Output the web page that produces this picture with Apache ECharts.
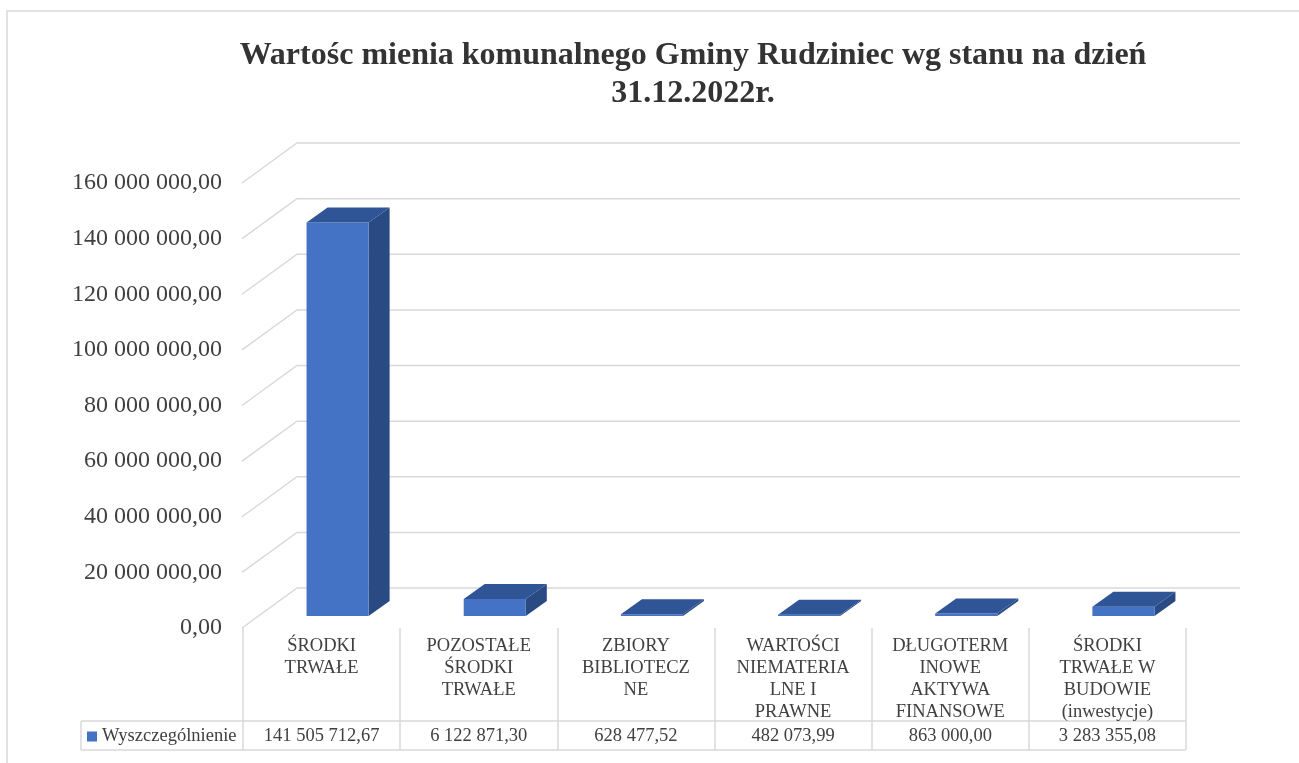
<!DOCTYPE html>
<html>
<head>
<meta charset="utf-8">
<title>Wartość mienia komunalnego Gminy Rudziniec</title>
<script src="https://cdn.jsdelivr.net/npm/echarts@6/dist/echarts.min.js"></script>
<style>
  html, body { margin: 0; padding: 0; background: #fff; }
  #chart { width: 1299px; height: 763px; }
</style>
</head>
<body>
<div id="chart"></div>
<script>
// dane
const titleLines = ['Wartośc mienia komunalnego Gminy Rudziniec wg stanu na dzień', '31.12.2022r.']
const seriesName = 'Wyszczególnienie'
const categories = [
  'ŚRODKI\nTRWAŁE',
  'POZOSTAŁE\nŚRODKI\nTRWAŁE',
  'ZBIORY\nBIBLIOTECZ\nNE',
  'WARTOŚCI\nNIEMATERIA\nLNE I\nPRAWNE',
  'DŁUGOTERM\nINOWE\nAKTYWA\nFINANSOWE',
  'ŚRODKI\nTRWAŁE W\nBUDOWIE\n(inwestycje)'
]
const values = [141505712.67, 6122871.30, 628477.52, 482073.99, 863000.00, 3283355.08]
const yTicks = [0, 20000000, 40000000, 60000000, 80000000, 100000000, 120000000, 140000000, 160000000]

// wygląd
const FONT = 'Liberation Serif'
const TEXT = '#404040'
const LINE = '#d9d9d9'
const FRONT = '#4472c4'
const TOP = '#2f5597'
const SIDE = '#294a82'
const GRID = { left: 243, top: 183, right: 113, bottom: 135 }
const WALL_DX = 54, WALL_DY = -40      // przesunięcie tylnej ściany
const BAR_DX = 21, BAR_DY = -15        // głębokość słupka
const BAR_OFF_X = 16, BAR_OFF_Y = -12  // położenie słupka w głębi
const ROW1 = 93, ROW2 = 122            // linie tabeli pod osią
const LEGEND_X = 81

const formatPl = (v) => {
  const [i, d] = Number(v).toFixed(2).split('.')
  return i.replace(/\B(?=(\d{3})+(?!\d))/g, ' ') + ',' + d
}

const chart = echarts.init(document.getElementById('chart'))

const axisBottom = 763 - GRID.bottom
const tableRight = 1299 - GRID.right

const option = {
  animation: false,
  textStyle: { fontFamily: FONT },
  graphic: [
    {
      type: 'rect', z: -10,
      shape: { x: 7, y: 11, width: 1400, height: 900 },
      style: { fill: null, stroke: LINE, lineWidth: 1.5 }
    },
    {
      type: 'text',
      x: 693, y: 37,
      style: {
        text: titleLines.join('\n'),
        fontFamily: FONT, fontSize: 32, fontWeight: 'bold',
        fill: '#333333', align: 'center', verticalAlign: 'top', lineHeight: 38
      }
    },
    { type: 'line', shape: { x1: LEGEND_X, y1: axisBottom + ROW1, x2: tableRight, y2: axisBottom + ROW1 }, style: { stroke: LINE, lineWidth: 1.5 } },
    { type: 'line', shape: { x1: LEGEND_X, y1: axisBottom + ROW2, x2: tableRight, y2: axisBottom + ROW2 }, style: { stroke: LINE, lineWidth: 1.5 } },
    { type: 'line', shape: { x1: LEGEND_X, y1: axisBottom + ROW1, x2: LEGEND_X, y2: axisBottom + ROW2 }, style: { stroke: LINE, lineWidth: 1.5 } }
  ],
  legend: {
    data: [seriesName],
    left: 87, top: 727,
    padding: 0,
    icon: 'rect', itemWidth: 10, itemHeight: 10,
    selectedMode: false,
    textStyle: { fontFamily: FONT, fontSize: 18.5, color: TEXT }
  },
  grid: GRID,
  xAxis: [
    {
      type: 'category',
      data: categories,
      boundaryGap: true,
      axisLine: { show: false },
      axisTick: { show: true, length: ROW2, lineStyle: { color: LINE, width: 1.5 } },
      axisLabel: { margin: 7, fontFamily: FONT, fontSize: 18.5, lineHeight: 22, color: TEXT, interval: 0 },
      splitLine: { show: false }
    },
    {
      type: 'category',
      data: values.map(formatPl),
      position: 'bottom',
      offset: ROW1,
      axisLine: { show: false },
      axisTick: { show: false },
      axisLabel: { margin: 4, fontFamily: FONT, fontSize: 18.5, lineHeight: 22, color: TEXT, interval: 0 },
      splitLine: { show: false }
    }
  ],
  yAxis: {
    type: 'value',
    min: 0, max: 160000000, interval: 20000000,
    axisLine: { show: false },
    axisTick: { show: false },
    splitLine: { show: false },
    axisLabel: { margin: 21, padding: [6, 0, 0, 0], fontFamily: FONT, fontSize: 24, color: TEXT, formatter: formatPl }
  },
  series: [
    {
      name: 'sciana',
      type: 'custom',
      z: 1,
      clip: false,
      silent: true,
      data: yTicks.map(v => [0, v]),
      renderItem: (params, api) => {
        const y = api.coord([0, api.value(1)])[1]
        const x0 = params.coordSys.x
        const w = params.coordSys.width
        return {
          type: 'polyline',
          shape: { points: [[x0 - 1, y], [x0 + WALL_DX, y + WALL_DY], [x0 + w + WALL_DX, y + WALL_DY]] },
          style: { stroke: LINE, lineWidth: 1.5, fill: null }
        }
      }
    },
    {
      name: seriesName,
      type: 'custom',
      z: 2,
      clip: false,
      itemStyle: { color: FRONT },
      data: values.map((v, i) => [i, v]),
      renderItem: (params, api) => {
        const idx = api.value(0)
        const base = api.coord([idx, 0])
        const top = api.coord([idx, api.value(1)])
        const bw = api.size([1, 0])[0] * 0.395
        const cx = base[0] + BAR_OFF_X
        const yb = base[1] + BAR_OFF_Y
        const yt = top[1] + BAR_OFF_Y
        const x0 = cx - bw / 2, x1 = cx + bw / 2
        return {
          type: 'group',
          children: [
            { type: 'polygon', shape: { points: [[x1, yt], [x1 + BAR_DX, yt + BAR_DY], [x1 + BAR_DX, yb + BAR_DY], [x1, yb]] }, style: { fill: SIDE } },
            { type: 'rect', shape: { x: x0, y: yt, width: bw, height: yb - yt }, style: { fill: FRONT } },
            { type: 'polygon', shape: { points: [[x0, yt], [x0 + BAR_DX, yt + BAR_DY], [x1 + BAR_DX, yt + BAR_DY], [x1, yt]] }, style: { fill: TOP } }
          ]
        }
      }
    }
  ]
}

chart.setOption(option)
window.addEventListener('resize', () => chart.resize())
</script>
</body>
</html>
